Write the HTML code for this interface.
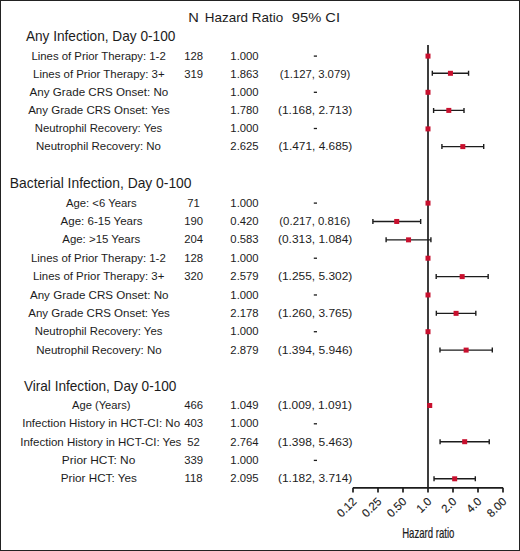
<!DOCTYPE html>
<html><head><meta charset="utf-8"><style>
html,body{margin:0;padding:0;background:#fff;}
body{width:520px;height:551px;overflow:hidden;}
svg{display:block;}
text{font-family:"Liberation Sans",sans-serif;}
.hd{font-size:13.5px;}
.ti{font-size:13.9px;}
.lb{font-size:11.3px;}
.tk text{font-size:11.5px;stroke:#1c1c1c;stroke-width:0.12px;}
.xl{font-size:13.8px;stroke:#1c1c1c;stroke-width:0.22px;}
</style></head><body>
<svg width="520" height="551" viewBox="0 0 520 551">
<rect x="0.5" y="0.5" width="519" height="550" fill="#fff" stroke="#222" stroke-width="1"/>
<g fill="#1c1c1c">
<text class="hd" x="188.22" y="21.60" textLength="10.56" lengthAdjust="spacingAndGlyphs">N</text>
<text class="hd" x="204.80" y="21.60" textLength="78.36" lengthAdjust="spacingAndGlyphs">Hazard Ratio</text>
<text class="hd" x="291.83" y="21.60" textLength="48.21" lengthAdjust="spacingAndGlyphs">95% CI</text>
<text class="ti" x="25.88" y="40.60" textLength="149.45" lengthAdjust="spacingAndGlyphs">Any Infection, Day 0-100</text>
<text class="lb" x="31.41" y="59.70" textLength="134.33" lengthAdjust="spacingAndGlyphs">Lines of Prior Therapy: 1-2</text>
<text class="lb" x="193.6" y="59.70" text-anchor="middle">128</text>
<text class="lb" x="244.5" y="59.70" text-anchor="middle">1.000</text>
<rect x="313.8" y="55.45" width="3.2" height="1.3"/>
<text class="lb" x="33.06" y="77.80" textLength="131.61" lengthAdjust="spacingAndGlyphs">Lines of Prior Therapy: 3+</text>
<text class="lb" x="279.73" y="77.80" textLength="70.58" lengthAdjust="spacingAndGlyphs">(1.127, 3.079)</text>
<text class="lb" x="193.6" y="77.80" text-anchor="middle">319</text>
<text class="lb" x="244.5" y="77.80" text-anchor="middle">1.863</text>
<text class="lb" x="29.64" y="95.90" textLength="138.65" lengthAdjust="spacingAndGlyphs">Any Grade CRS Onset: No</text>
<text class="lb" x="244.5" y="95.90" text-anchor="middle">1.000</text>
<rect x="313.8" y="91.65" width="3.2" height="1.3"/>
<text class="lb" x="28.15" y="114.00" textLength="141.63" lengthAdjust="spacingAndGlyphs">Any Grade CRS Onset: Yes</text>
<text class="lb" x="278.03" y="114.00" textLength="74.28" lengthAdjust="spacingAndGlyphs">(1.168, 2.713)</text>
<text class="lb" x="244.5" y="114.00" text-anchor="middle">1.780</text>
<text class="lb" x="34.80" y="132.10" textLength="127.42" lengthAdjust="spacingAndGlyphs">Neutrophil Recovery: Yes</text>
<text class="lb" x="244.5" y="132.10" text-anchor="middle">1.000</text>
<rect x="313.8" y="127.85" width="3.2" height="1.3"/>
<text class="lb" x="36.09" y="150.20" textLength="124.84" lengthAdjust="spacingAndGlyphs">Neutrophil Recovery: No</text>
<text class="lb" x="278.43" y="150.20" textLength="73.88" lengthAdjust="spacingAndGlyphs">(1.471, 4.685)</text>
<text class="lb" x="244.5" y="150.20" text-anchor="middle">2.625</text>
<text class="ti" x="9.87" y="188.20" textLength="181.68" lengthAdjust="spacingAndGlyphs">Bacterial Infection, Day 0-100</text>
<text class="lb" x="65.97" y="206.70" textLength="70.66" lengthAdjust="spacingAndGlyphs">Age: &lt;6 Years</text>
<text class="lb" x="193.6" y="206.70" text-anchor="middle">71</text>
<text class="lb" x="244.5" y="206.70" text-anchor="middle">1.000</text>
<rect x="313.8" y="202.45" width="3.2" height="1.3"/>
<text class="lb" x="60.60" y="225.07" textLength="82.04" lengthAdjust="spacingAndGlyphs">Age: 6-15 Years</text>
<text class="lb" x="279.33" y="225.07" textLength="70.98" lengthAdjust="spacingAndGlyphs">(0.217, 0.816)</text>
<text class="lb" x="193.6" y="225.07" text-anchor="middle">190</text>
<text class="lb" x="244.5" y="225.07" text-anchor="middle">0.420</text>
<text class="lb" x="62.26" y="243.45" textLength="77.91" lengthAdjust="spacingAndGlyphs">Age: &gt;15 Years</text>
<text class="lb" x="278.03" y="243.45" textLength="74.28" lengthAdjust="spacingAndGlyphs">(0.313, 1.084)</text>
<text class="lb" x="193.6" y="243.45" text-anchor="middle">204</text>
<text class="lb" x="244.5" y="243.45" text-anchor="middle">0.583</text>
<text class="lb" x="31.01" y="261.82" textLength="134.73" lengthAdjust="spacingAndGlyphs">Lines of Prior Therapy: 1-2</text>
<text class="lb" x="193.6" y="261.82" text-anchor="middle">128</text>
<text class="lb" x="244.5" y="261.82" text-anchor="middle">1.000</text>
<rect x="313.8" y="257.57" width="3.2" height="1.3"/>
<text class="lb" x="32.96" y="280.20" textLength="131.41" lengthAdjust="spacingAndGlyphs">Lines of Prior Therapy: 3+</text>
<text class="lb" x="278.03" y="280.20" textLength="74.28" lengthAdjust="spacingAndGlyphs">(1.255, 5.302)</text>
<text class="lb" x="193.6" y="280.20" text-anchor="middle">320</text>
<text class="lb" x="244.5" y="280.20" text-anchor="middle">2.579</text>
<text class="lb" x="29.94" y="298.57" textLength="138.55" lengthAdjust="spacingAndGlyphs">Any Grade CRS Onset: No</text>
<text class="lb" x="244.5" y="298.57" text-anchor="middle">1.000</text>
<rect x="313.8" y="294.32" width="3.2" height="1.3"/>
<text class="lb" x="28.25" y="316.95" textLength="141.63" lengthAdjust="spacingAndGlyphs">Any Grade CRS Onset: Yes</text>
<text class="lb" x="278.03" y="316.95" textLength="74.28" lengthAdjust="spacingAndGlyphs">(1.260, 3.765)</text>
<text class="lb" x="244.5" y="316.95" text-anchor="middle">2.178</text>
<text class="lb" x="34.80" y="335.32" textLength="127.62" lengthAdjust="spacingAndGlyphs">Neutrophil Recovery: Yes</text>
<text class="lb" x="244.5" y="335.32" text-anchor="middle">1.000</text>
<rect x="313.8" y="331.07" width="3.2" height="1.3"/>
<text class="lb" x="36.19" y="353.70" textLength="125.44" lengthAdjust="spacingAndGlyphs">Neutrophil Recovery: No</text>
<text class="lb" x="277.73" y="353.70" textLength="74.88" lengthAdjust="spacingAndGlyphs">(1.394, 5.946)</text>
<text class="lb" x="244.5" y="353.70" text-anchor="middle">2.879</text>
<text class="ti" x="23.93" y="391.30" textLength="152.45" lengthAdjust="spacingAndGlyphs">Viral Infection, Day 0-100</text>
<text class="lb" x="72.01" y="409.10" textLength="58.49" lengthAdjust="spacingAndGlyphs">Age (Years)</text>
<text class="lb" x="277.73" y="409.10" textLength="74.18" lengthAdjust="spacingAndGlyphs">(1.009, 1.091)</text>
<text class="lb" x="193.6" y="409.10" text-anchor="middle">466</text>
<text class="lb" x="244.5" y="409.10" text-anchor="middle">1.049</text>
<text class="lb" x="22.21" y="427.40" textLength="157.89" lengthAdjust="spacingAndGlyphs">Infection History in HCT-CI: No</text>
<text class="lb" x="193.6" y="427.40" text-anchor="middle">403</text>
<text class="lb" x="244.5" y="427.40" text-anchor="middle">1.000</text>
<rect x="313.8" y="423.15" width="3.2" height="1.3"/>
<text class="lb" x="20.26" y="445.70" textLength="161.08" lengthAdjust="spacingAndGlyphs">Infection History in HCT-CI: Yes</text>
<text class="lb" x="277.73" y="445.70" textLength="74.88" lengthAdjust="spacingAndGlyphs">(1.398, 5.463)</text>
<text class="lb" x="193.6" y="445.70" text-anchor="middle">52</text>
<text class="lb" x="244.5" y="445.70" text-anchor="middle">2.764</text>
<text class="lb" x="61.84" y="464.00" textLength="73.44" lengthAdjust="spacingAndGlyphs">Prior HCT: No</text>
<text class="lb" x="193.6" y="464.00" text-anchor="middle">339</text>
<text class="lb" x="244.5" y="464.00" text-anchor="middle">1.000</text>
<rect x="313.8" y="459.75" width="3.2" height="1.3"/>
<text class="lb" x="60.75" y="482.30" textLength="76.05" lengthAdjust="spacingAndGlyphs">Prior HCT: Yes</text>
<text class="lb" x="278.03" y="482.30" textLength="74.28" lengthAdjust="spacingAndGlyphs">(1.182, 3.714)</text>
<text class="lb" x="193.6" y="482.30" text-anchor="middle">118</text>
<text class="lb" x="244.5" y="482.30" text-anchor="middle">2.095</text>
</g>
<g stroke="#1c1c1c" stroke-width="1.7" fill="none"><path d="M428.0 45V487.8"/><path d="M353.0 487.8H503.0"/><path d="M353.00 487.8V492.40000000000003"/><path d="M378.00 487.8V492.40000000000003"/><path d="M403.00 487.8V492.40000000000003"/><path d="M428.00 487.8V492.40000000000003"/><path d="M453.00 487.8V492.40000000000003"/><path d="M478.00 487.8V492.40000000000003"/><path d="M503.00 487.8V492.40000000000003"/></g>
<g stroke="#1c1c1c" stroke-width="1.4" fill="none"><path d="M432.31 73.30H468.56M432.31 70.80V75.80M468.56 70.80V75.80"/><path d="M433.60 110.40H464.00M433.60 107.90V112.90M464.00 107.90V112.90"/><path d="M441.92 146.60H483.70M441.92 144.10V149.10M483.70 144.10V149.10"/><path d="M372.89 221.47H420.67M372.89 218.97V223.97M420.67 218.97V223.97"/><path d="M386.11 239.85H430.91M386.11 237.35V242.35M430.91 237.35V242.35"/><path d="M436.19 276.60H488.16M436.19 274.10V279.10M488.16 274.10V279.10"/><path d="M436.34 313.35H475.82M436.34 310.85V315.85M475.82 310.85V315.85"/><path d="M439.98 350.10H492.30M439.98 347.60V352.60M492.30 347.60V352.60"/><path d="M428.32 405.50H431.14M428.32 403.00V408.00M431.14 403.00V408.00"/><path d="M440.08 441.70H489.24M440.08 439.20V444.20M489.24 439.20V444.20"/><path d="M434.03 478.80H475.32M434.03 476.30V481.30M475.32 476.30V481.30"/></g>
<g fill="#c8102e"><rect x="425.50" y="53.60" width="5" height="5"/><rect x="447.94" y="70.80" width="5" height="5"/><rect x="425.50" y="89.80" width="5" height="5"/><rect x="446.30" y="107.90" width="5" height="5"/><rect x="425.50" y="126.40" width="5" height="5"/><rect x="460.31" y="144.10" width="5" height="5"/><rect x="425.50" y="200.60" width="5" height="5"/><rect x="394.21" y="218.97" width="5" height="5"/><rect x="406.04" y="237.35" width="5" height="5"/><rect x="425.50" y="255.72" width="5" height="5"/><rect x="459.67" y="274.10" width="5" height="5"/><rect x="425.50" y="292.47" width="5" height="5"/><rect x="453.58" y="310.85" width="5" height="5"/><rect x="425.50" y="329.22" width="5" height="5"/><rect x="463.64" y="347.60" width="5" height="5"/><rect x="427.23" y="403.00" width="5" height="5"/><rect x="462.17" y="439.20" width="5" height="5"/><rect x="452.17" y="476.30" width="5" height="5"/></g>
<g class="tk" fill="#1c1c1c"><text transform="translate(357.40,502.20) rotate(-45)" text-anchor="end">0.12</text><text transform="translate(382.40,502.20) rotate(-45)" text-anchor="end">0.25</text><text transform="translate(407.40,502.20) rotate(-45)" text-anchor="end">0.50</text><text transform="translate(432.40,502.20) rotate(-45)" text-anchor="end">1.0</text><text transform="translate(457.40,502.20) rotate(-45)" text-anchor="end">2.0</text><text transform="translate(482.40,502.20) rotate(-45)" text-anchor="end">4.0</text><text transform="translate(507.40,502.20) rotate(-45)" text-anchor="end">8.00</text></g>
<text class="xl" transform="translate(428.3,537.6) scale(0.695,1)" text-anchor="middle" fill="#1c1c1c">Hazard ratio</text>
</svg>
</body></html>
